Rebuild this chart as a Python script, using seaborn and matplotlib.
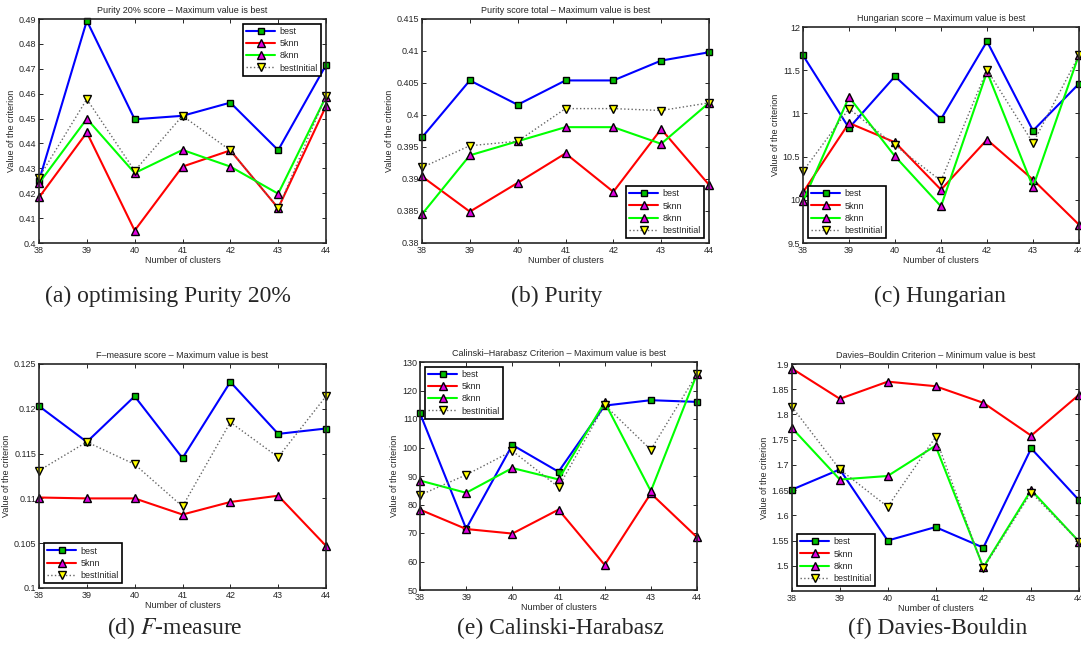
import numpy as np
import pandas as pd
import matplotlib
matplotlib.use("Agg")
import matplotlib.pyplot as plt
import seaborn as sns

clusters = [38, 39, 40, 41, 42, 43, 44]

# (a) Purity 20%
pur20_best = [0.425, 0.4893, 0.4497, 0.4511, 0.4564, 0.4373, 0.4715]
pur20_5knn = [0.4183, 0.4444, 0.4050, 0.4307, 0.4372, 0.4140, 0.4550]
pur20_8knn = [0.4240, 0.4499, 0.4281, 0.4374, 0.4307, 0.4198, 0.4588]
pur20_init = [0.4263, 0.4578, 0.4290, 0.4511, 0.4372, 0.4140, 0.4591]

# (b) Purity total
pur_best = [0.3965, 0.4054, 0.4016, 0.4054, 0.4054, 0.4085, 0.4098]
pur_5knn = [0.3904, 0.3849, 0.3894, 0.3940, 0.3880, 0.3978, 0.3891]
pur_8knn = [0.3845, 0.3937, 0.3959, 0.3981, 0.3981, 0.3955, 0.4019]
pur_init = [0.3918, 0.3952, 0.3959, 0.4010, 0.4010, 0.4007, 0.4019]

# (c) Hungarian
hun_best = [11.672, 10.831, 11.429, 10.935, 11.834, 10.80, 11.344]
hun_5knn = [10.086, 10.889, 10.665, 10.117, 10.696, 10.233, 9.712]
hun_8knn = [9.982, 11.19, 10.503, 9.924, 11.48, 10.148, 11.68]
hun_init = [10.33, 11.055, 10.63, 10.22, 11.506, 10.657, 11.672]

# (d) F-measure
fm_best = [0.1203, 0.1163, 0.1214, 0.1145, 0.1230, 0.1172, 0.1178]
fm_5knn = [0.1101, 0.1100, 0.1100, 0.1082, 0.1096, 0.1103, 0.1047]
fm_init = [0.1131, 0.1163, 0.1138, 0.1091, 0.1185, 0.1146, 0.1214]

# (e) Calinski-Harabasz
ch_best = [112.0, 71.5, 100.9, 91.5, 114.7, 116.6, 116.0]
ch_5knn = [78.2, 71.4, 69.8, 78.2, 58.8, 83.9, 68.5]
ch_8knn = [88.4, 84.1, 92.8, 88.8, 115.9, 84.7, 125.8]
ch_init = [83.3, 90.4, 98.8, 86.1, 114.9, 99.2, 125.8]

# (f) Davies-Bouldin
db_best = [1.651, 1.691, 1.550, 1.5767, 1.536, 1.7327, 1.630]
db_5knn = [1.891, 1.831, 1.865, 1.856, 1.823, 1.758, 1.839]
db_8knn = [1.773, 1.671, 1.678, 1.738, 1.497, 1.650, 1.548]
db_init = [1.815, 1.691, 1.617, 1.755, 1.495, 1.645, 1.548]

sns.set_style("ticks")
plt.rcParams['font.family'] = ['Liberation Sans', 'DejaVu Sans']
plt.rcParams['mathtext.fontset'] = 'stix'

fig = plt.figure(figsize=(10.81, 6.56), dpi=100)
W, H = 1081, 656

def make_ax(l, r, t, b):
    return fig.add_axes([l / W, (H - b) / H, (r - l) / W, (b - t) / H])

styles = {
    'best': dict(color='#0000ff', ls='-', marker='s', mfc='#00c000', ms=4, lw=1.5),
    '5knn': dict(color='#ff0000', ls='-', marker='^', mfc='#e000e0', ms=6, lw=1.5),
    '8knn': dict(color='#00ff00', ls='-', marker='^', mfc='#e000e0', ms=6, lw=1.5),
    'bestInitial': dict(color='#666666', ls=':', marker='v', mfc='#ffff00', ms=6, lw=1.0),
}

def panel(ax, series, title, ylim, yticks, yfmt, legloc):
    for name, vals in series:
        st = styles[name]
        sns.lineplot(x=clusters, y=vals, ax=ax, color=st['color'], linestyle=st['ls'],
                     marker=st['marker'], markerfacecolor=st['mfc'], markeredgecolor='black',
                     markeredgewidth=1.0, markersize=st['ms'], linewidth=st['lw'],
                     label=name, clip_on=False)
    ax.set_xlim(38, 44)
    ax.set_ylim(*ylim)
    ax.set_xticks(clusters)
    ax.set_yticks(yticks)
    ax.set_yticklabels([yfmt(v) for v in yticks])
    ax.set_title(title, fontsize=6.5, pad=4)
    ax.set_xlabel("Number of clusters", fontsize=6.5, labelpad=1)
    ax.set_ylabel("Value of the criterion", fontsize=6.5, labelpad=2)
    ax.tick_params(direction='in', top=True, right=True, labelsize=6.5, length=3, width=0.7, pad=2)
    for s in ax.spines.values():
        s.set_linewidth(1.2)
        s.set_visible(True)
    leg = ax.legend(loc=legloc, fontsize=6.5, fancybox=False, edgecolor='black',
                    framealpha=1, handlelength=3.2, borderpad=0.4, labelspacing=0.35,
                    handletextpad=0.5)
    leg.get_frame().set_linewidth(1.2)

def g(v):
    return ('%g' % round(v, 4))

ax = make_ax(39, 326, 19, 243)
panel(ax, [('best', pur20_best), ('5knn', pur20_5knn), ('8knn', pur20_8knn), ('bestInitial', pur20_init)],
      "Purity 20% score \u2013 Maximum value is best", (0.40, 0.49),
      np.arange(0.40, 0.4901, 0.01), g, 'upper right')

ax = make_ax(422, 709, 19, 243)
panel(ax, [('best', pur_best), ('5knn', pur_5knn), ('8knn', pur_8knn), ('bestInitial', pur_init)],
      "Purity score total \u2013 Maximum value is best", (0.38, 0.415),
      np.arange(0.38, 0.4151, 0.005), g, 'lower right')

ax = make_ax(803, 1079, 27, 243)
panel(ax, [('best', hun_best), ('5knn', hun_5knn), ('8knn', hun_8knn), ('bestInitial', hun_init)],
      "Hungarian score \u2013 Maximum value is best", (9.5, 12),
      np.arange(9.5, 12.01, 0.5), g, 'lower left')

ax = make_ax(39, 326, 364, 588)
panel(ax, [('best', fm_best), ('5knn', fm_5knn), ('bestInitial', fm_init)],
      "F\u2013measure score \u2013 Maximum value is best", (0.10, 0.125),
      np.arange(0.10, 0.1251, 0.005), g, 'lower left')

ax = make_ax(420, 697, 362, 590)
panel(ax, [('best', ch_best), ('5knn', ch_5knn), ('8knn', ch_8knn), ('bestInitial', ch_init)],
      "Calinski\u2013Harabasz Criterion \u2013 Maximum value is best", (50, 130),
      np.arange(50, 131, 10), g, 'upper left')

ax = make_ax(792, 1079, 364, 591)
panel(ax, [('best', db_best), ('5knn', db_5knn), ('8knn', db_8knn), ('bestInitial', db_init)],
      "Davies\u2013Bouldin Criterion \u2013 Minimum value is best", (1.45, 1.9),
      np.arange(1.5, 1.901, 0.05), g, 'lower left')

captions = [
    (168, 296, "(a) optimising Purity 20%"),
    (557, 296, "(b) Purity"),
    (940, 296, "(c) Hungarian"),
    (175, 628, "(d) $F$-measure"),
    (560, 628, "(e) Calinski-Harabasz"),
    (938, 628, "(f) Davies-Bouldin"),
]
for x, y, t in captions:
    fig.text(x / W, (H - y) / H, t, ha='center', va='center', fontsize=17,
             family='Liberation Serif')

fig.savefig("out.png", dpi=100)
